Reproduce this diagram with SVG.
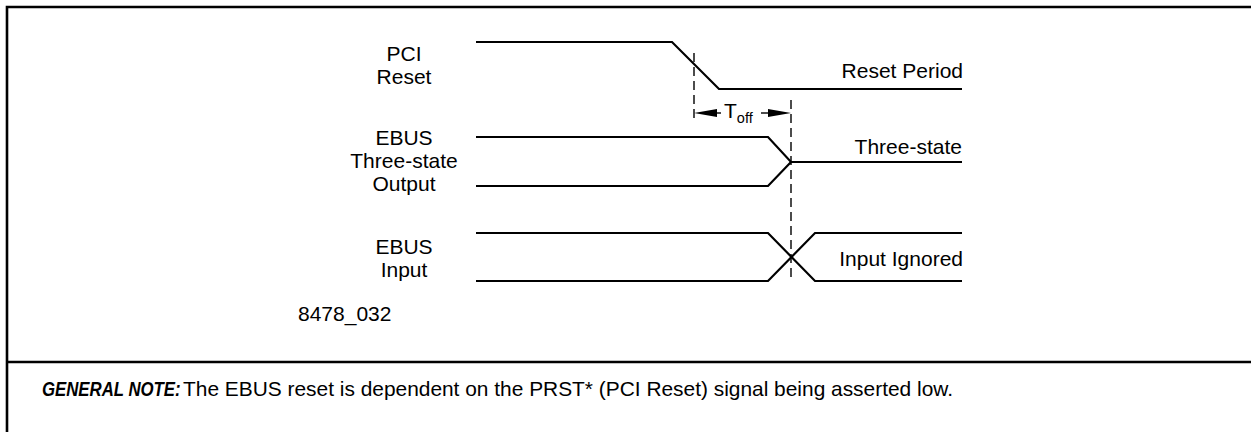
<svg xmlns="http://www.w3.org/2000/svg" width="1251" height="432" viewBox="0 0 1251 432">
<style>
.frame{stroke:#000;stroke-width:2.6;fill:none}
.wave{stroke:#000;stroke-width:2.2;fill:none;stroke-linejoin:miter}
.dash{stroke:#000;stroke-width:1.4;stroke-dasharray:9 5;fill:none}
.arr{stroke:#000;stroke-width:1.4;fill:none}
.head{fill:#000;stroke:none}
.lbl{font-family:"Liberation Sans",Arial,sans-serif;font-size:21px;fill:#000}
.mid{text-anchor:middle}
.end{text-anchor:end}
.note{font-family:"Liberation Sans Narrow","Liberation Sans",Arial,sans-serif;font-size:21px;fill:#000}
</style>
<defs>
<path id="ahR" class="head" d="M-23,-4 L0,0 L-23,4 Z"/>
</defs>
<rect width="1251" height="432" fill="#fff"/>
<g id="frame">
<path class="frame" d="M1251,7 H7 V432"/>
<path class="frame" d="M7,362 H1251"/>
</g>
<g id="pci-reset">
<text class="lbl mid" x="404" y="61">PCI</text>
<text class="lbl mid" x="404" y="84">Reset</text>
<path class="wave" d="M476,42 H672 L719,89 H962"/>
<text class="lbl end" x="963" y="78">Reset Period</text>
</g>
<g id="ebus-output">
<text class="lbl mid" x="404" y="145">EBUS</text>
<text class="lbl mid" x="404" y="168">Three-state</text>
<text class="lbl mid" x="404" y="191">Output</text>
<path class="wave" d="M476,137 H768 L791,162 H962"/>
<path class="wave" d="M476,186 H768 L791,162"/>
<text class="lbl end" x="962" y="154">Three-state</text>
</g>
<g id="ebus-input">
<text class="lbl mid" x="404" y="254">EBUS</text>
<text class="lbl mid" x="404" y="277">Input</text>
<path class="wave" d="M476,233 H768 L815,281 H962"/>
<path class="wave" d="M476,281 H768 L815,233 H962"/>
<text class="lbl end" x="963" y="266">Input Ignored</text>
</g>
<g id="timing">
<path class="dash" d="M694,53 V121"/>
<path class="dash" d="M791,100 V282"/>
<path class="arr" d="M721,113 H700"/>
<path class="arr" d="M761,113 H785"/>
<use href="#ahR" transform="translate(694,113) scale(-1,1)"/>
<use href="#ahR" transform="translate(791,113)"/>
<text class="lbl" x="724" y="118" font-size="19">T<tspan font-size="14.5" dy="5">off</tspan></text>
</g>
<text class="lbl" x="298" y="321" font-size="15.5">8478_032</text>
<g id="note">
<text class="note" transform="translate(42,396) scale(0.8,1)" x="0" y="0" font-weight="bold" font-style="italic">GENERAL NOTE:</text>
<text class="note" x="183" y="396" textLength="770" lengthAdjust="spacingAndGlyphs">The EBUS reset is dependent on the PRST* (PCI Reset) signal being asserted low.</text>
</g>
</svg>
